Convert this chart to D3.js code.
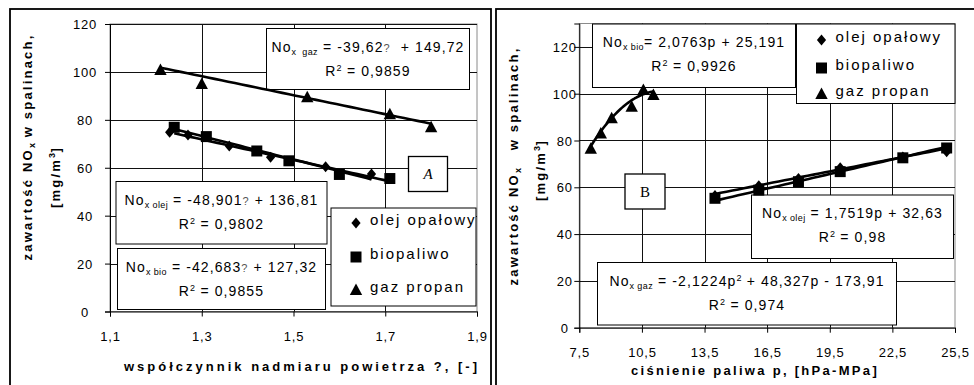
<!DOCTYPE html>
<html>
<head>
<meta charset="utf-8">
<script src="https://cdn.jsdelivr.net/npm/d3@7"></script>
<style>
  body { margin: 0; background: #fff; }
  svg { display: block; font-family: "Liberation Sans", Arial, sans-serif; }
  text { white-space: pre; }
</style>
</head>
<body>
<svg id="chart" width="974" height="385"></svg>
<script>
// ---- panel A : NOx vs excess air ratio ----
const lamTicks = [1.1, 1.3, 1.5, 1.7, 1.9];
const noxTicksA = [0, 20, 40, 60, 80, 100, 120];
const lamOlej = [1.23, 1.27, 1.36, 1.45, 1.57, 1.67];
const noxOlejA = [74.8, 73.7, 69.1, 64.4, 60.4, 57.4];
const lamBio = [1.24, 1.31, 1.42, 1.49, 1.60, 1.71];
const noxBioA = [76.9, 73.0, 67.0, 62.9, 57.2, 55.5];
const lamGaz = [1.21, 1.30, 1.53, 1.71, 1.80];
const noxGazA = [100.8, 95.0, 89.4, 82.3, 76.9];
// trendline coefficients printed on the chart (highest power first)
const fitOlejA = [-48.901, 136.81];
const fitBioA = [-42.683, 127.32];
const fitGazA = [-39.62, 149.72];

// ---- panel B : NOx vs fuel pressure ----
const pTicks = [7.5, 10.5, 13.5, 16.5, 19.5, 22.5, 25.5];
const noxTicksB = [0, 20, 40, 60, 80, 100, 120];
const pOlej = [14.0, 16.1, 18.0, 20.0, 23.0, 25.1];
const noxOlejB = [56.5, 60.7, 63.8, 68.4, 73.0, 75.2];
const pBio = [14.0, 16.1, 18.0, 20.0, 23.0, 25.1];
const noxBioB = [55.3, 58.8, 62.4, 66.7, 72.6, 76.8];
const pGaz = [8.05, 8.53, 9.05, 10.01, 10.57, 11.05];
const noxGazB = [76.5, 83.0, 89.5, 94.4, 101.6, 99.4];
const fitOlejB = [1.7519, 32.63];
const fitBioB = [2.0763, 25.191];
const fitGazB = [-2.1224, 48.327, -173.91];

const legendNames = ["olej opałowy", "biopaliwo", "gaz propan"];

// equation labels: [text, kind]  kind: "" normal, sub, sup, q (missing glyph)
const eqGazA = [[["No", ""], ["x  gaz", "sub"], [" = -39,62", ""], ["?", "q"], ["  + 149,72", ""]], [["R", ""], ["2", "sup"], [" = 0,9859", ""]]];
const eqOlejA = [[["No", ""], ["x olej", "sub"], [" = -48,901", ""], ["?", "q"], [" + 136,81", ""]], [["R", ""], ["2", "sup"], [" = 0,9802", ""]]];
const eqBioA = [[["No", ""], ["x bio", "sub"], [" = -42,683", ""], ["?", "q"], [" + 127,32", ""]], [["R", ""], ["2", "sup"], [" = 0,9855", ""]]];
const eqBioB = [[["No", ""], ["x bio", "sub"], ["= 2,0763p + 25,191", ""]], [["R", ""], ["2", "sup"], [" = 0,9926", ""]]];
const eqOlejB = [[["No", ""], ["x olej", "sub"], [" = 1,7519p + 32,63", ""]], [["R", ""], ["2", "sup"], [" = 0,98", ""]]];
const eqGazB = [[["No", ""], ["x gaz", "sub"], [" = -2,1224p", ""], ["2", "sup"], [" + 48,327p - 173,91", ""]], [["R", ""], ["2", "sup"], [" = 0,974", ""]]];

const svg = d3.select("#chart");
const shapes = {
  diamond: "M0,-5.5L4.6,0L0,5.5L-4.6,0Z",
  square: "M-5.5,-5.5H5.5V5.5H-5.5Z",
  triangle: "M0,-6.5L6.2,5L-6.2,5Z"
};
const comma = d => String(d).replace(".", ",");
const poly = c => v => c.reduce((acc, k) => acc * v + k, 0);

function richText(sel, parts, small) {
  let shift = 0;
  parts.forEach(([s, k]) => {
    const target = k === "sub" ? 3 : k === "sup" ? -5 : 0;
    const t = sel.append("tspan").attr("dy", target - shift).text(s);
    shift = target;
    if (k === "sub" || k === "sup") t.attr("font-size", small).attr("letter-spacing", 0.4);
    if (k === "q") t.attr("font-size", 11).attr("fill", "#555");
  });
}

function eqBox(g, box, lines) {
  const [bx, by, bw, bh] = box;
  g.append("rect").attr("x", bx).attr("y", by).attr("width", bw).attr("height", bh)
    .attr("fill", "#fff").attr("stroke", "#000").attr("stroke-width", 1);
  lines.forEach((parts, i) => {
    const t = g.append("text").attr("x", bx + bw / 2).attr("y", by + (i ? 47 : 23))
      .attr("text-anchor", "middle").attr("font-size", 14).attr("letter-spacing", 1.1);
    richText(t, parts, 9);
  });
}

function panel(o) {
  const g = svg.append("g");
  const x = d3.scaleLinear().domain(o.xDomain).range(o.xRange);
  const y = d3.scaleLinear().domain(o.yDomain).range(o.yRange);
  const [x0, x1] = o.xRange, [y0, y1] = o.yRange;

  g.append("rect").attr("x", o.frame[0]).attr("y", o.frame[1])
    .attr("width", o.frame[2]).attr("height", o.frame[3])
    .attr("fill", "none").attr("stroke", "#000").attr("stroke-width", 1.8);

  // plot area border + grid
  g.append("rect").attr("x", x0).attr("y", y1).attr("width", x1 - x0).attr("height", y0 - y1)
    .attr("fill", "none").attr("stroke", "#8a8a8a");
  g.append("g").selectAll("line").data(o.yTicks.slice(1)).join("line")
    .attr("x1", x0).attr("x2", x1)
    .attr("y1", d => Math.round(y(d)) + 0.5).attr("y2", d => Math.round(y(d)) + 0.5)
    .attr("stroke", "#111");
  g.append("g").selectAll("line").data(o.xTicks.slice(1, -1)).join("line")
    .attr("y1", y1).attr("y2", y0)
    .attr("x1", d => Math.round(x(d)) + 0.5).attr("x2", d => Math.round(x(d)) + 0.5)
    .attr("stroke", "#111");

  // axes
  const ax = g.append("g").attr("transform", `translate(${x0},0)`)
    .call(d3.axisLeft(y).tickValues(o.yTicks).tickSize(5).tickFormat(d => d));
  ax.selectAll("text").attr("text-anchor", "middle").attr("x", o.yLabelX).attr("dy", "0.35em");
  const bx = g.append("g").attr("transform", `translate(0,${y0})`)
    .call(d3.axisBottom(x).tickValues(o.xTicks).tickSize(5).tickFormat(d => comma(d3.format(".1f")(d))));
  bx.selectAll("text").attr("y", 29).attr("dy", 0);
  [ax, bx].forEach(a => {
    a.select(".domain").attr("stroke", "#000");
    a.selectAll(".tick line").attr("stroke", "#000");
    a.selectAll("text").attr("font-size", 13).attr("letter-spacing", 0.8)
      .attr("font-family", "Liberation Sans, Arial, sans-serif").attr("fill", "#000");
  });

  // axis titles
  g.append("text").attr("x", o.xTitle[0]).attr("y", o.xTitle[1]).attr("text-anchor", "middle")
    .attr("font-size", 13).attr("font-weight", "bold").attr("letter-spacing", o.xTitle[2])
    .text(o.xTitleText);
  const yt1 = g.append("text").attr("transform", `translate(${o.yTitle1[0]},${o.yTitle1[1]}) rotate(-90)`)
    .attr("text-anchor", "middle").attr("font-size", 13).attr("font-weight", "bold").attr("letter-spacing", 2.2);
  yt1.append("tspan").text("zawartość NO");
  yt1.append("tspan").attr("dy", 3).attr("font-size", 9).attr("letter-spacing", 0).text("x");
  yt1.append("tspan").attr("dy", -3).attr("dx", o.yTitle1[2]).text(" w spalinach,");
  const yt2 = g.append("text").attr("transform", `translate(${o.yTitle2[0]},${o.yTitle2[1]}) rotate(-90)`)
    .attr("text-anchor", "middle").attr("font-size", 13).attr("font-weight", "bold").attr("letter-spacing", 2.2);
  richText(yt2, [["[mg/m", ""], ["3", "sup"], ["]", ""]], 9);

  // equation boxes, legend, panel letter
  o.boxes.forEach(([box, lines]) => eqBox(g, box, lines));
  const [lx, ly, lw, lh] = o.legend;
  g.append("rect").attr("x", lx).attr("y", ly).attr("width", lw).attr("height", lh)
    .attr("fill", "#fff").attr("stroke", "#000");
  o.series.forEach((s, i) => {
    const cy = o.legendY[i];
    g.append("path").attr("d", shapes[s.shape]).attr("transform", `translate(${lx + 25},${cy})`).attr("fill", "#000");
    g.append("text").attr("x", lx + 39).attr("y", cy + 2).attr("font-size", 15).attr("letter-spacing", 2)
      .text(legendNames[i]);
  });
  const [kx, ky, kw, kh] = o.tag;
  g.append("rect").attr("x", kx).attr("y", ky).attr("width", kw).attr("height", kh)
    .attr("fill", "#fff").attr("stroke", "#000").attr("stroke-width", 1.3);
  g.append("text").attr("x", kx + kw / 2).attr("y", ky + kh / 2 + 5).attr("text-anchor", "middle")
    .attr("font-family", "Liberation Serif, Times New Roman, serif").attr("font-style", o.tagStyle)
    .attr("font-size", 15).text(o.tagText);

  // trendlines then markers
  const line = d3.line().x(d => x(d[0])).y(d => y(d[1]));
  o.series.forEach(s => {
    const [a, b] = d3.extent(s.xs);
    const f = poly(s.fit);
    const pts = d3.range(0, 41).map(i => a + (b - a) * i / 40).map(v => [v, f(v)]);
    g.append("path").attr("d", line(pts)).attr("fill", "none").attr("stroke", "#000")
      .attr("stroke-width", 2.6).attr("stroke-linejoin", "round");
  });
  o.series.forEach(s => {
    g.append("g").selectAll("path").data(d3.zip(s.xs, s.ys)).join("path")
      .attr("d", shapes[s.shape]).attr("fill", "#000")
      .attr("transform", d => `translate(${x(d[0])},${y(d[1])})`);
  });
}

panel({
  frame: [10, 9, 481, 390],
  xDomain: [1.1, 1.9], xRange: [110, 477],
  yDomain: [0, 120], yRange: [311.5, 24],
  xTicks: lamTicks, yTicks: noxTicksA, yLabelX: -25,
  xTitle: [302, 371, 3], xTitleText: "współczynnik nadmiaru powietrza ?, [-]",
  yTitle1: [31.5, 147, 0], yTitle2: [59.5, 177],
  boxes: [[[266.5, 28.5, 203, 61], eqGazA], [[116, 181.5, 211, 62.5], eqOlejA], [[117.5, 248.5, 208, 61], eqBioA]],
  legend: [331, 208, 145, 98], legendY: [223, 257, 290],
  tag: [408.5, 156.5, 39, 35], tagText: "A", tagStyle: "italic",
  series: [
    { xs: lamOlej, ys: noxOlejA, fit: fitOlejA, shape: "diamond" },
    { xs: lamBio, ys: noxBioA, fit: fitBioA, shape: "square" },
    { xs: lamGaz, ys: noxGazA, fit: fitGazA, shape: "triangle" }
  ]
});

panel({
  frame: [496, 9, 490, 390],
  xDomain: [7.5, 25.5], xRange: [579.3, 955],
  yDomain: [0, 130], yRange: [327.7, 23.5],
  xTicks: pTicks, yTicks: noxTicksB, yLabelX: -14.5,
  xTitle: [755, 375, 2.3], xTitleText: "ciśnienie paliwa p, [hPa-MPa]",
  yTitle1: [517.5, 166, 12], yTitle2: [544.5, 170],
  boxes: [[[592.5, 24, 203, 63.5], eqBioB], [[751.5, 195, 202, 63.5], eqOlejB], [[597.5, 262.5, 299, 62.5], eqGazB]],
  legend: [796.5, 24, 158.5, 79.5], legendY: [40, 68, 94],
  tag: [625, 174, 40, 35], tagText: "B", tagStyle: "normal",
  series: [
    { xs: pOlej, ys: noxOlejB, fit: fitOlejB, shape: "diamond" },
    { xs: pBio, ys: noxBioB, fit: fitBioB, shape: "square" },
    { xs: pGaz, ys: noxGazB, fit: fitGazB, shape: "triangle" }
  ]
});
</script>
</body>
</html>
